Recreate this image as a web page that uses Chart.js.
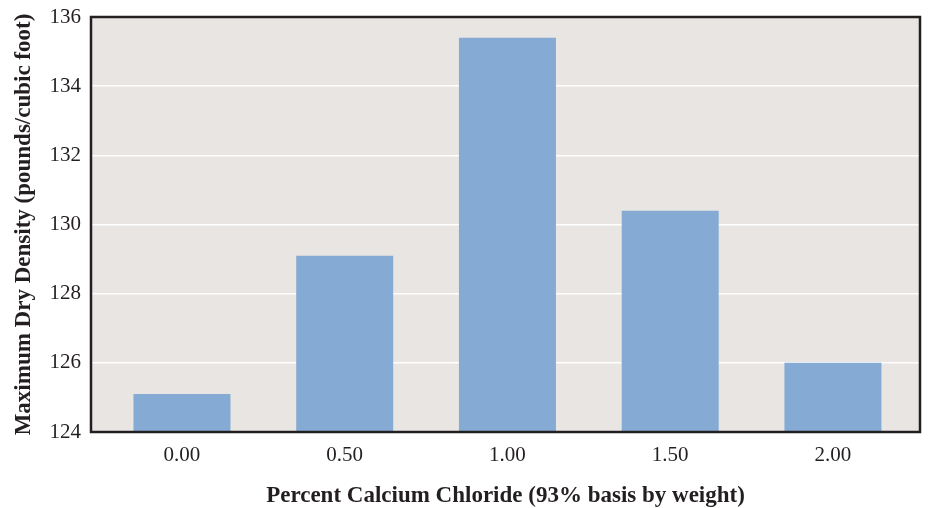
<!DOCTYPE html>
<html>
<head>
<meta charset="utf-8">
<script src="https://cdn.jsdelivr.net/npm/chart.js@4"></script>
<style>
html,body{margin:0;padding:0;background:#fff;}
#wrap{width:929px;height:508px;position:relative;}
</style>
</head>
<body>
<div id="wrap"><canvas id="c" width="929" height="508"></canvas></div>
<script>
const categories = ["0.00", "0.50", "1.00", "1.50", "2.00"];
const densityValues = [125.1, 129.1, 135.4, 130.4, 126.0];
const yTicks = [124, 126, 128, 130, 132, 134, 136];
const xTitle = "Percent Calcium Chloride (93% basis by weight)";
const yTitle = "Maximum Dry Density (pounds/cubic foot)";

const frame = {
  id: 'frame',
  beforeDraw(chart) {
    const {ctx, chartArea: a} = chart;
    ctx.save();
    ctx.fillStyle = '#E9E5E2';
    ctx.fillRect(a.left, a.top, a.right - a.left, a.bottom - a.top);
    ctx.restore();
  },
  afterDatasetsDraw(chart) {
    const {ctx, chartArea: a} = chart;
    ctx.save();
    ctx.strokeStyle = '#231F20';
    ctx.lineWidth = 2.5;
    ctx.strokeRect(a.left, a.top, a.right - a.left, a.bottom - a.top);
    ctx.restore();
  }
};

const points = categories.map((c, i) => ({ x: i, y: densityValues[i] }));

new Chart(document.getElementById('c'), {
  type: 'bar',
  data: {
    datasets: [{
      data: points,
      backgroundColor: '#85AAD3',
      borderWidth: 0,
      barPercentage: 0.596,
      categoryPercentage: 1.0
    }]
  },
  options: {
    responsive: false,
    animation: false,
    maintainAspectRatio: false,
    layout: { padding: { top: 17, right: 9, left: 0, bottom: 0 } },
    plugins: { legend: { display: false }, tooltip: { enabled: false } },
    scales: {
      x: {
        type: 'linear',
        offset: false,
        min: -0.559, max: 4.535,
        afterBuildTicks(s) { s.ticks = categories.map((c, i) => ({ value: i })); },
        grid: { display: false, drawTicks: false, offset: false },
        border: { display: false },
        ticks: { color: '#231F20', padding: 11, autoSkip: false, maxRotation: 0,
                 callback: (v) => categories[v] ?? '',
                 font: { family: 'Liberation Serif', size: 21 } },
        title: { display: true, text: xTitle, color: '#231F20', padding: { top: 16, bottom: -2 },
                 font: { family: 'Liberation Serif', size: 23, weight: 'bold' } },
        afterFit(s) { s.height = 76; s.paddingLeft = 0; s.paddingRight = 0; }
      },
      y: {
        min: yTicks[0], max: yTicks[yTicks.length - 1],
        afterBuildTicks(s) { s.ticks = yTicks.map(v => ({ value: v })); },
        grid: { color: '#FFFFFF', lineWidth: 1.5, drawTicks: false },
        border: { display: false },
        ticks: { color: '#231F20', padding: 10, font: { family: 'Liberation Serif', size: 21 } },
        title: { display: true, text: yTitle, color: '#231F20', padding: { top: 10, bottom: 4 },
                 font: { family: 'Liberation Serif', size: 23, weight: 'bold' } },
        afterFit(s) { s.width = 91; s.paddingTop = 0; s.paddingBottom = 0; }
      }
    }
  },
  plugins: [frame]
});
</script>
</body>
</html>
